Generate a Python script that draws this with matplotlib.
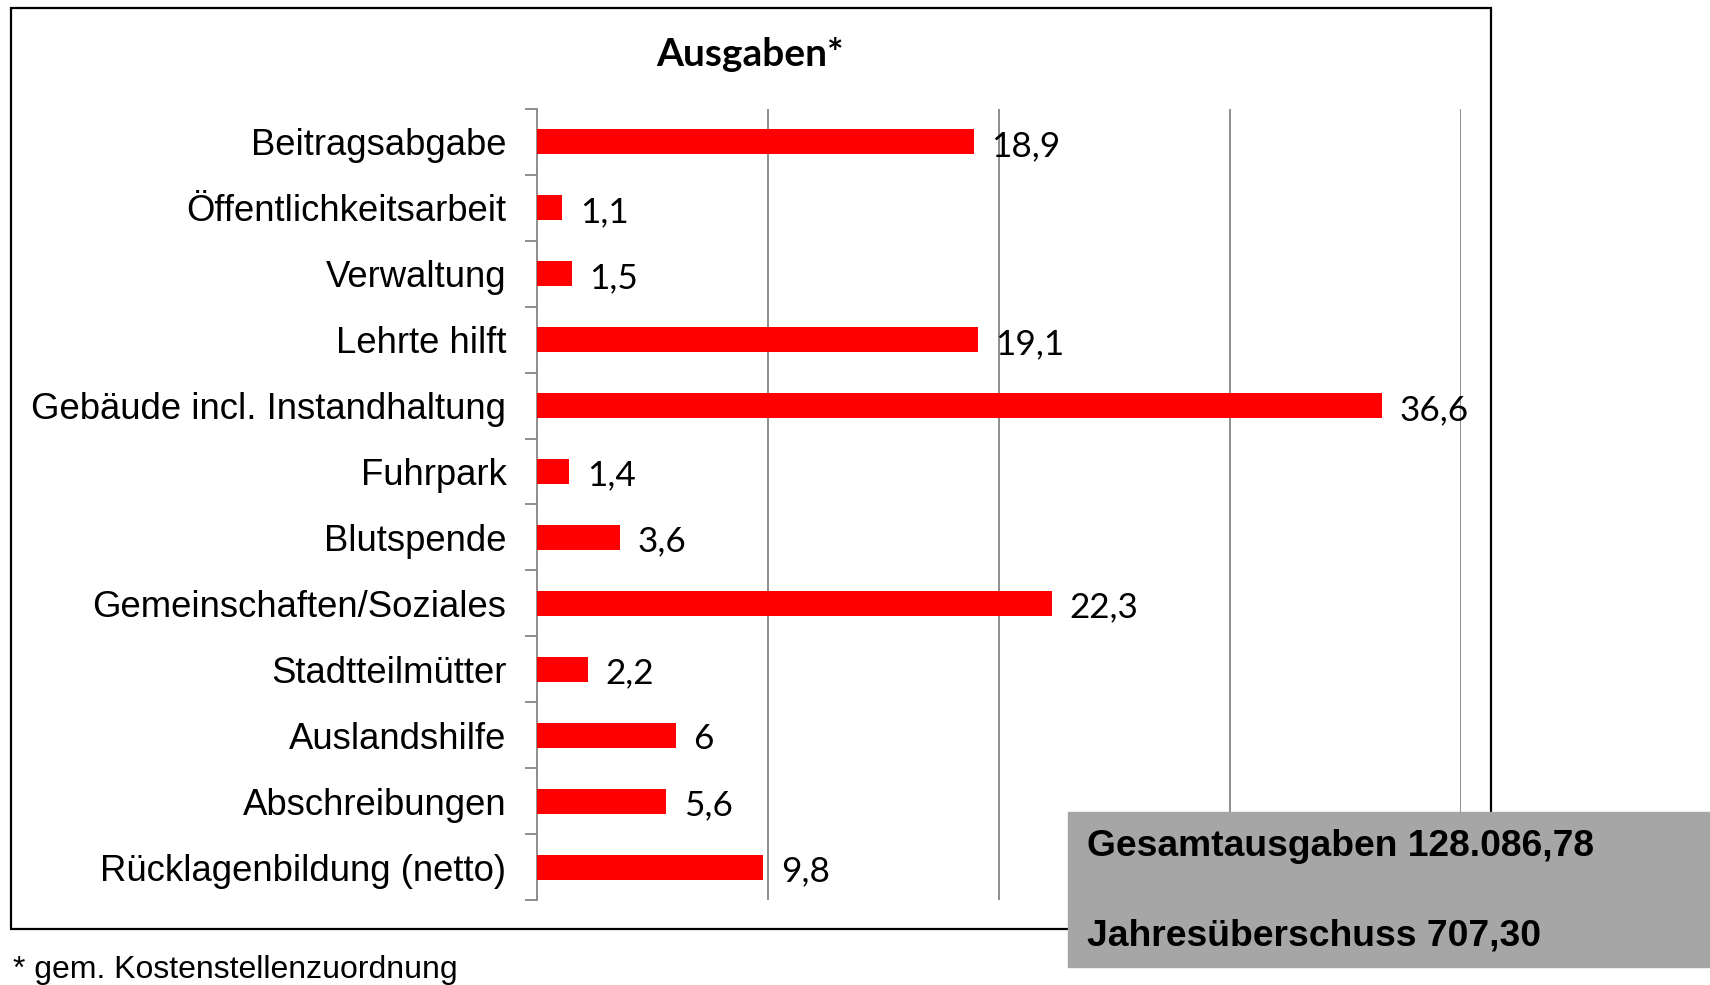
import matplotlib
matplotlib.use('Agg')
import matplotlib.pyplot as plt
from matplotlib.patches import Rectangle

W, H = 1710, 985

categories = ['Beitragsabgabe', 'Öffentlichkeitsarbeit', 'Verwaltung', 'Lehrte hilft',
              'Gebäude incl. Instandhaltung', 'Fuhrpark', 'Blutspende',
              'Gemeinschaften/Soziales', 'Stadtteilmütter', 'Auslandshilfe',
              'Abschreibungen', 'Rücklagenbildung (netto)']
values = [18.9, 1.1, 1.5, 19.1, 36.6, 1.4, 3.6, 22.3, 2.2, 6, 5.6, 9.8]
value_labels = ['18,9', '1,1', '1,5', '19,1', '36,6', '1,4', '3,6', '22,3', '2,2', '6', '5,6', '9,8']
title = 'Ausgaben*'
box_lines = ['Gesamtausgaben 128.086,78', 'Jahresüberschuss 707,30']
footnote = '* gem. Kostenstellenzuordnung'

fig = plt.figure(figsize=(W / 100, H / 100), dpi=100)


def px(x0, y0, x1, y1):
    # pixel box (top-left origin) -> figure fraction rect
    return [x0 / W, 1 - y1 / H, (x1 - x0) / W, (y1 - y0) / H]


# outer chart frame
fig.patches.append(Rectangle((11 / W, 1 - 929 / H), (1491 - 11) / W, (929 - 8) / H,
                             transform=fig.transFigure, fill=False, ec='black', lw=1.6))

ax = fig.add_axes(px(537, 109, 1461, 900))
n = len(categories)
ypos = list(range(n))
ax.barh(ypos, values, height=0.38, color='#ff0000', zorder=3)
ax.set_xlim(0, 40)
ax.set_ylim(n - 0.5, -0.5)

ax.set_xticks([10, 20, 30, 40])
ax.xaxis.grid(True, color='#868686', lw=1.3)
ax.tick_params(axis='x', length=0, labelbottom=False)

ax.set_yticks([i - 0.5 for i in range(n + 1)])
ax.set_yticklabels([])
ax.tick_params(axis='y', which='major', length=9, width=1.3, color='#868686')
ax.set_yticks(ypos, minor=True)
ax.set_yticklabels(categories, minor=True, fontfamily='Liberation Sans', fontsize=26.3)
ax.tick_params(axis='y', which='minor', length=0, pad=22)

for s in ['top', 'right', 'bottom']:
    ax.spines[s].set_visible(False)
ax.spines['left'].set_color('#868686')
ax.spines['left'].set_linewidth(1.3)

for y, v, lab in zip(ypos, values, value_labels):
    ax.annotate(lab, (v, y), xytext=(12.5, -3), textcoords='offset points',
                ha='left', va='center', fontfamily='Lato', fontsize=25.3, zorder=4)

fig.text(750 / W, 1 - 54 / H, title, ha='center', va='center',
         fontfamily='Lato', fontweight='bold', fontsize=28)

# grey summary box
fig.patches.append(Rectangle((1068 / W, 1 - 967 / H), (1710 - 1068) / W, (967 - 812) / H,
                             transform=fig.transFigure, color='#a6a6a6', zorder=5))
fig.text(1087 / W, 1 - 846 / H, box_lines[0], ha='left', va='center', zorder=6,
         fontfamily='Liberation Sans', fontweight='bold', fontsize=26.8)
fig.text(1087 / W, 1 - 936 / H, box_lines[1], ha='left', va='center', zorder=6,
         fontfamily='Liberation Sans', fontweight='bold', fontsize=26.8)

fig.text(13 / W, 1 - 970 / H, footnote, ha='left', va='center',
         fontfamily='Liberation Sans', fontsize=23)

fig.savefig('out.png', dpi=100)
